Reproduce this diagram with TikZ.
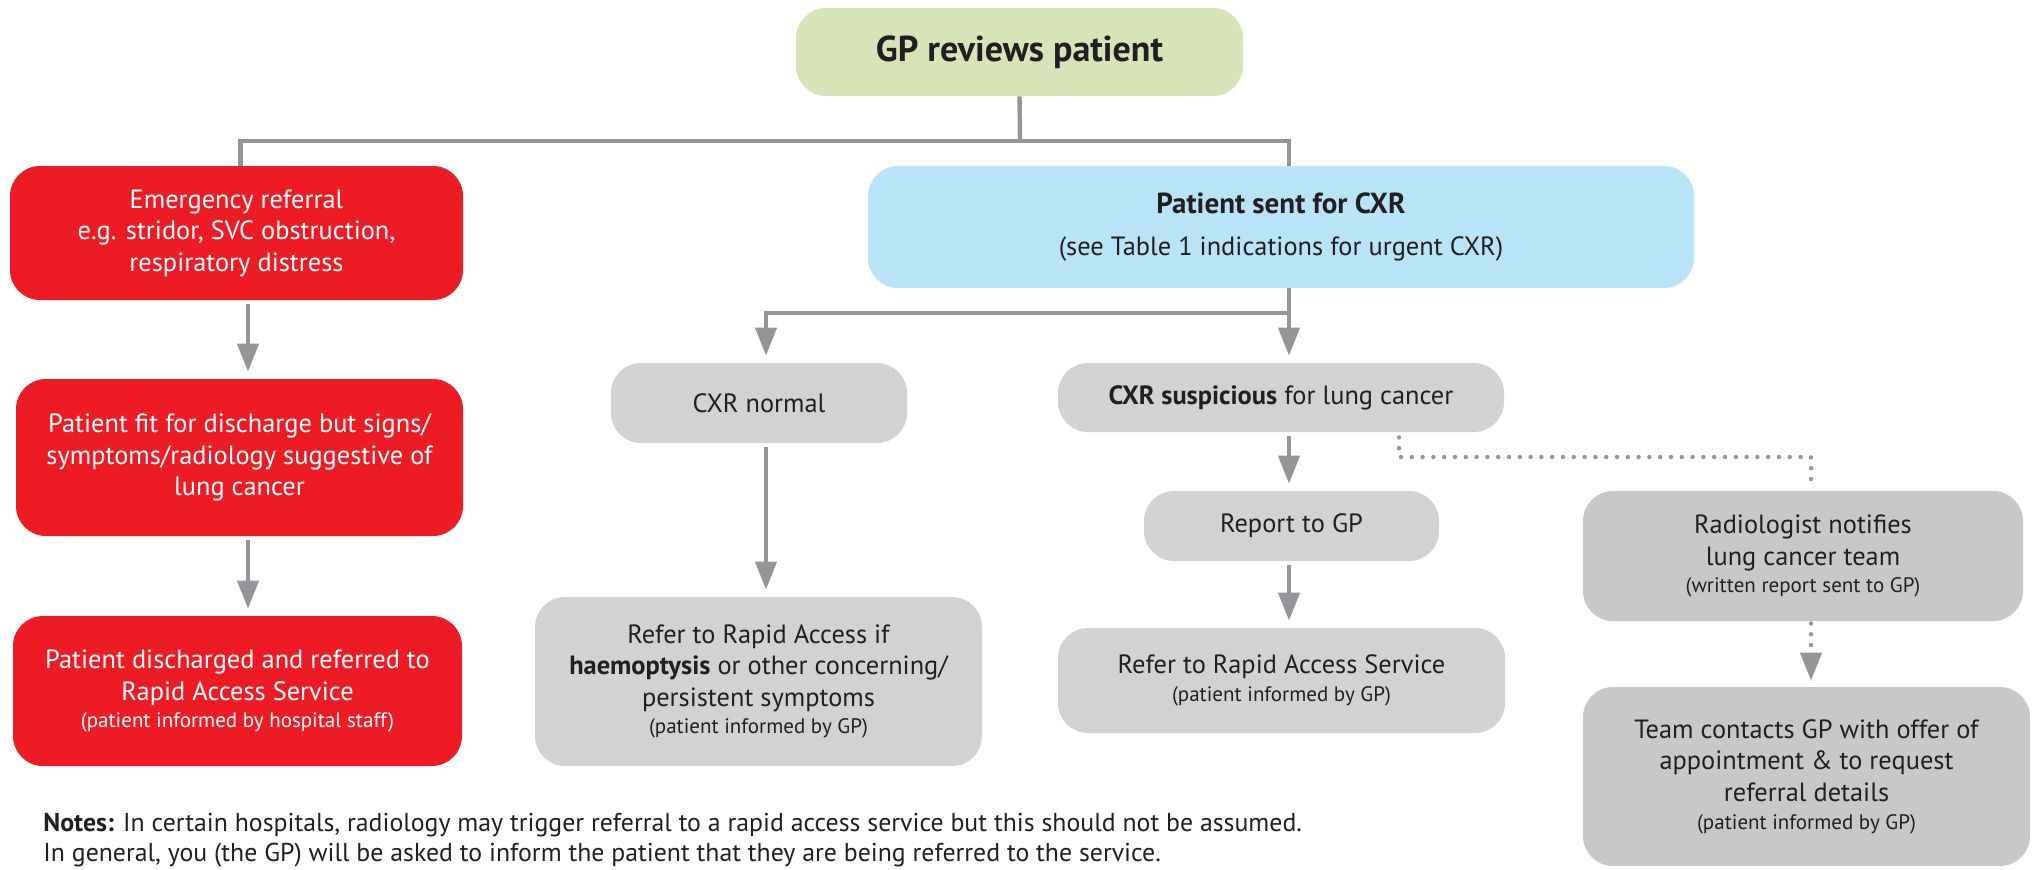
\documentclass[tikz,border=0pt]{standalone}
\usepackage{fontspec}
\setmainfont{PT Sans}
\usetikzlibrary{arrows.meta}

\definecolor{gpgreen}{HTML}{D7E4B7}
\definecolor{cxrblue}{HTML}{B9E4F8}
\definecolor{emred}{HTML}{ED1C24}
\definecolor{boxgrey}{HTML}{D1D2D4}
\definecolor{boxgreyd}{HTML}{C7C8CA}
\definecolor{linegrey}{HTML}{939598}
\definecolor{darktext}{HTML}{231F20}

\newcommand{\subtext}[1]{{\fontsize{10.5}{12}\selectfont #1}}

\tikzset{
  box/.style={rounded corners=15pt, inner sep=0pt, align=center, text=darktext,
    font=\fontsize{13.2}{15.8}\selectfont},
  redbox/.style={box, fill=emred, text=white},
  greybox/.style={box, fill=boxgrey},
  darkbox/.style={box, fill=boxgreyd},
  conn/.style={draw=linegrey, line width=2.2pt},
  arr/.style={conn, -{Triangle[width=10.5pt,length=14pt]}, shorten >=3.5pt},
  arrbox/.style={arr, shorten <=2pt},
  dots/.style={draw=linegrey, line width=2.2pt, line cap=round, dash pattern=on 0pt off 5.4pt},
}

\begin{document}
\begin{tikzpicture}[x=0.5pt,y=-0.5pt]
		\useasboundingbox (0,0) rectangle (2035,869);

		\node[box, fill=gpgreen, minimum width=223.5pt, minimum height=44pt, font=\fontsize{18}{20}\selectfont\bfseries] (gp) at (1019.5,52) {GP reviews patient};
		\node[redbox, minimum width=226.5pt, minimum height=67pt] (emerg) at (236.5,233) {Emergency referral\\e.g. stridor, SVC obstruction,\\respiratory distress};
		\node[box, fill=cxrblue, minimum width=413pt, minimum height=61pt] (cxr) at (1281,227) {{\fontsize{14.5}{16}\selectfont\bfseries Patient sent for CXR}\\[5pt](see Table 1 indications for urgent CXR)};
		\node[redbox, minimum width=223.5pt, minimum height=78.5pt] (fit) at (239.5,457.5) {Patient fit for discharge but signs/\\symptoms/radiology suggestive of\\lung cancer};
		\node[redbox, minimum width=224.5pt, minimum height=75pt] (disch) at (237.5,691) {Patient discharged and referred to\\Rapid Access Service\\[-2pt]\subtext{(patient informed by hospital staff)}};
		\node[greybox, minimum width=148pt, minimum height=40pt] (normal) at (759,403) {CXR normal};
		\node[greybox, minimum width=223.5pt, minimum height=84.5pt] (refif) at (758.5,681.5) {Refer to Rapid Access if\\\textbf{haemoptysis} or other concerning/\\persistent symptoms\\[-2pt]\subtext{(patient informed by GP)}};
		\node[greybox, minimum width=223pt, minimum height=34.5pt] (susp) at (1281,397.5) {\textbf{CXR suspicious} for lung cancer};
		\node[greybox, minimum width=147.5pt, minimum height=35pt] (report) at (1291.5,526) {Report to GP};
		\node[greybox, minimum width=223.5pt, minimum height=52.5pt] (rapid) at (1281.5,680.5) {Refer to Rapid Access Service\\[-2pt]\subtext{(patient informed by GP)}};
		\node[darkbox, minimum width=220pt, minimum height=65pt] (radio) at (1803,556) {Radiologist notifies\\lung cancer team\\[-2pt]\subtext{(written report sent to GP)}};
		\node[darkbox, minimum width=223.5pt, minimum height=89.5pt] (team) at (1806.5,776.5) {Team contacts GP with offer of\\appointment \& to request\\referral details\\[-2pt]\subtext{(patient informed by GP)}};
		\node[anchor=west, align=left, inner sep=0pt, text=darktext, font=\fontsize{12.9}{15}\selectfont] (notes) at (43,840) {\textbf{Notes:} In certain hospitals, radiology may trigger referral to a rapid access service but this should not be assumed.\\In general, you (the GP) will be asked to inform the patient that they are being referred to the service.};

		\coordinate (lx) at (248,0);
		\coordinate (mx) at (766,0);
		\coordinate (cx) at (1289,0);
		\coordinate (rx) at (1811,0);
		\coordinate (dx) at (1399,0);
		\coordinate (j1) at (1020,141);
		\coordinate (j2) at (1289,313);
		\coordinate (d1) at (1811,457);

		\draw[conn] (gp.south) -- (j1);
		\draw[conn] ([xshift=2pt]emerg.north) |- (j1) -| (cxr.north -| cx);
		\draw[conn] (cxr.south -| cx) -- (j2);
		\draw[arr] (j2) -| (normal.north -| mx);
		\draw[arr] (j2) -- (susp.north -| cx);
		\draw[arrbox] (emerg.south -| lx) -- (fit.north -| lx);
		\draw[arrbox] (fit.south -| lx) -- (disch.north -| lx);
		\draw[arrbox] (normal.south -| mx) -- (refif.north -| mx);
		\draw[arrbox] (susp.south -| cx) -- (report.north -| cx);
		\draw[arrbox] (report.south -| cx) -- (rapid.north -| cx);
		\draw[dots] ([yshift=-2.5pt]susp.south -| dx) |- (d1) -- ([yshift=1.5pt]radio.north -| rx);
		\draw[dots, -{Triangle[width=10.5pt,length=14pt]}, shorten >=3pt] ([yshift=-1pt]radio.south -| rx) -- (team.north -| rx);
	\end{tikzpicture}
\end{document}
